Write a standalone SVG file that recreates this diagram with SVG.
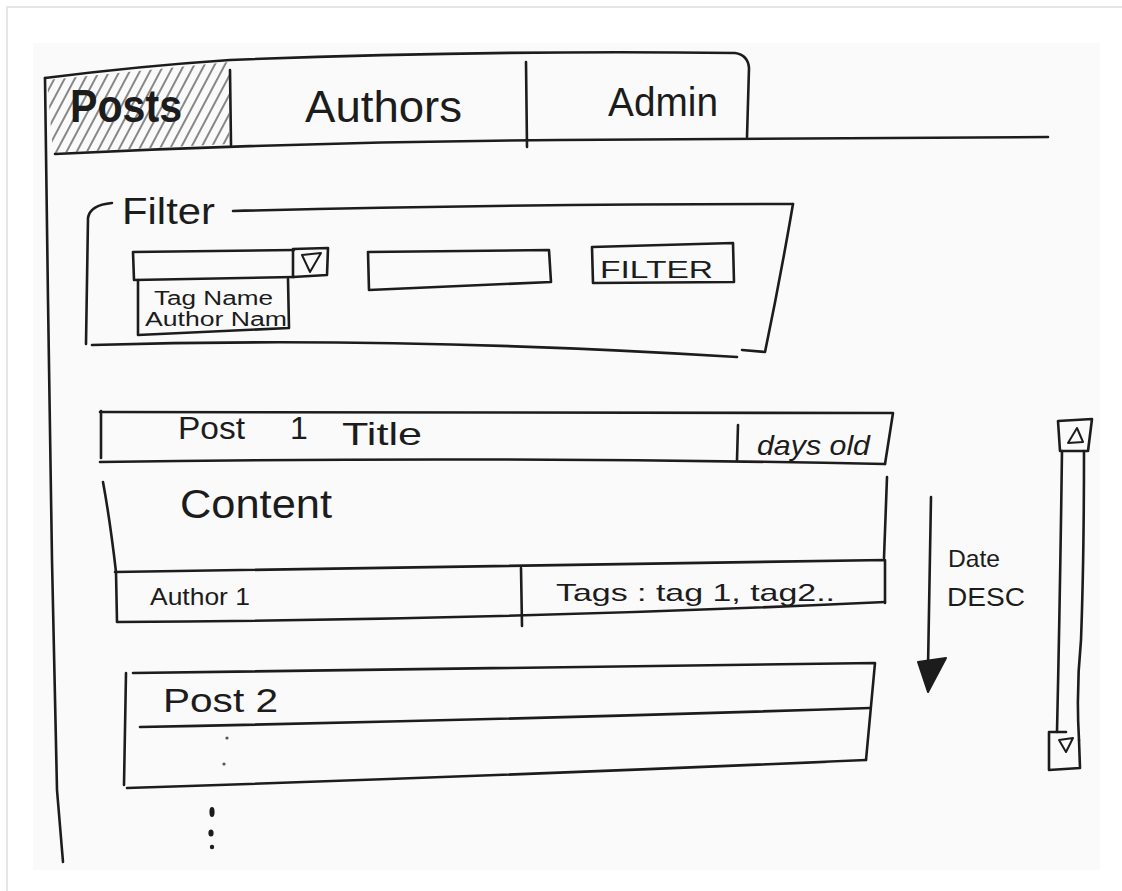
<svg xmlns="http://www.w3.org/2000/svg" width="1122" height="891" viewBox="0 0 1122 891">
  <defs>
    <style>
      .ink { fill: none; stroke: #1c1c1c; stroke-width: 2.6; stroke-linecap: round; stroke-linejoin: round; }
      .thin { fill: none; stroke: #1c1c1c; stroke-width: 2; stroke-linecap: round; stroke-linejoin: round; }
      .txt { font-family: "Liberation Sans", "DejaVu Sans", sans-serif; fill: #1c1c1c; }
    </style>
    <pattern id="hatch" patternUnits="userSpaceOnUse" width="9" height="9" patternTransform="rotate(28)">
      <line x1="4" y1="0" x2="4" y2="9" stroke="#6a6a6a" stroke-width="1.6"/>
    </pattern>
    <clipPath id="postsTabClip">
      <polygon points="47,80 229,62 229,144 53,153"/>
    </clipPath>
  </defs>

  <!-- page background and frame -->
  <rect x="0" y="0" width="1122" height="891" fill="#ffffff"/>
  <rect x="7" y="7" width="1130" height="900" fill="#ffffff" stroke="#dedede" stroke-width="1.5"/>
  <rect x="33" y="43" width="1067" height="827" fill="#fafafa"/>

  <!-- tab bar -->
  <g id="tab-bar">
    <rect x="40" y="55" width="200" height="100" fill="url(#hatch)" clip-path="url(#postsTabClip)"/>
    <path class="ink" d="M45,78 Q140,66 230,60 Q480,50 735,53 Q748,55 749,68 L747,137"/>
    <path class="ink" d="M55,154 Q300,142 560,140 L1048,137"/>
    <path class="ink" d="M230,70 L231,145"/>
    <path class="ink" d="M526,62 L527,147"/>
    <path class="ink" d="M45,78 L48,300 L52,560 L57,790 L63,862" stroke-width="3"/>
  </g>
  <g id="tab-posts">
    <text class="txt" x="70" y="122" font-size="46" font-weight="bold" textLength="112" lengthAdjust="spacingAndGlyphs">Posts</text>
  </g>
  <g id="tab-authors">
    <text class="txt" x="305" y="122" font-size="44" textLength="157" lengthAdjust="spacingAndGlyphs">Authors</text>
  </g>
  <g id="tab-admin">
    <text class="txt" x="608" y="116" font-size="40" textLength="110" lengthAdjust="spacingAndGlyphs">Admin</text>
  </g>

  <!-- filter panel -->
  <g id="filter-panel">
    <text class="txt" x="122" y="224" font-size="36" textLength="93" lengthAdjust="spacingAndGlyphs">Filter</text>
    <path class="ink" d="M112,203 Q90,205 88,218 L86,344"/>
    <path class="ink" d="M233,211 Q500,204 793,204"/>
    <path class="ink" d="M793,204 Q780,280 765,352 L742,350"/>
    <path class="ink" d="M92,345 Q400,336 737,357"/>
  </g>
  <g id="filter-field-select">
    <path class="ink" d="M133,252 L294,250 M133,252 L134,280 L294,277"/>
    <path class="ink" d="M293,249 L328,248 L327,275 L293,277 Z"/>
    <path class="thin" d="M302,255 L321,253 L310,272 Z"/>
  </g>
  <g id="filter-field-options">
    <path class="ink" d="M138,280 L138,335 L289,328 L288,279"/>
    <text class="txt" x="154" y="305" font-size="20" textLength="119" lengthAdjust="spacingAndGlyphs">Tag Name</text>
    <text class="txt" x="145" y="326" font-size="20" textLength="142" lengthAdjust="spacingAndGlyphs">Author Nam</text>
  </g>
  <g id="filter-text-input">
    <path class="ink" d="M368,252 L549,250 L551,282 L369,290 Z"/>
  </g>
  <g id="filter-button">
    <path class="ink" d="M592,247 L733,243 L734,282 L593,283 Z"/>
    <text class="txt" x="600" y="278" font-size="24" textLength="113" lengthAdjust="spacingAndGlyphs">FILTER</text>
  </g>

  <!-- first post -->
  <g id="post-1-title">
    <path class="ink" d="M100,412 Q500,412 893,413 L885,464"/>
    <path class="ink" d="M101,411 L101,458"/>
    <path class="ink" d="M100,462 Q500,456 885,464"/>
    <path class="ink" d="M738,425 L737,460"/>
    <text class="txt" x="178" y="439" font-size="32" textLength="67" lengthAdjust="spacingAndGlyphs">Post</text>
    <text class="txt" x="290" y="439" font-size="32">1</text>
    <text class="txt" x="342" y="445" font-size="32" textLength="80" lengthAdjust="spacingAndGlyphs">Title</text>
    <text class="txt" x="757" y="455" font-size="28" font-style="italic" textLength="113" lengthAdjust="spacingAndGlyphs">days old</text>
  </g>
  <g id="post-1-content">
    <path class="ink" d="M103,482 Q110,520 116,572"/>
    <path class="ink" d="M887,477 L884,558"/>
    <text class="txt" x="180" y="518" font-size="40" textLength="152" lengthAdjust="spacingAndGlyphs">Content</text>
  </g>
  <g id="post-1-footer">
    <path class="ink" d="M115,572 Q500,566 885,560 L885,603"/>
    <path class="ink" d="M116,572 L117,622 Q500,620 885,602"/>
    <path class="ink" d="M521,568 L522,626"/>
    <text class="txt" x="150" y="605" font-size="24" textLength="100" lengthAdjust="spacingAndGlyphs">Author 1</text>
    <text class="txt" x="556" y="601" font-size="24" textLength="279" lengthAdjust="spacingAndGlyphs">Tags : tag 1, tag2..</text>
  </g>

  <!-- second post -->
  <g id="post-2">
    <path class="ink" d="M126,673 L124,785"/>
    <path class="ink" d="M133,673 Q500,668 875,663 L866,760"/>
    <path class="ink" d="M140,727 Q500,720 870,708"/>
    <path class="ink" d="M127,788 Q500,776 866,760"/>
    <text class="txt" x="163" y="712" font-size="34" textLength="115" lengthAdjust="spacingAndGlyphs">Post 2</text>
  </g>
  <g id="more-posts">
    <circle cx="227" cy="738" r="1.6" fill="#555"/>
    <circle cx="224" cy="764" r="1.6" fill="#555"/>
    <ellipse cx="212" cy="812" rx="2.6" ry="5" fill="#1c1c1c"/>
    <ellipse cx="211" cy="833" rx="2.6" ry="3.5" fill="#1c1c1c"/>
    <circle cx="212" cy="847" r="2.2" fill="#1c1c1c"/>
  </g>

  <!-- sort direction -->
  <g id="connectors">
    <path class="ink" d="M931,497 L928,668"/>
    <polygon points="918,662 946,658 928,692" fill="#1c1c1c" stroke="#1c1c1c" stroke-width="2" stroke-linejoin="round"/>
  </g>
  <g id="sort-label">
    <text class="txt" x="948" y="567" font-size="24" textLength="52" lengthAdjust="spacingAndGlyphs">Date</text>
    <text class="txt" x="947" y="606" font-size="26" textLength="78" lengthAdjust="spacingAndGlyphs">DESC</text>
  </g>

  <!-- scrollbar -->
  <g id="scrollbar">
    <path class="ink" d="M1058,421 L1092,419 L1088,451 L1060,451 Z"/>
    <path class="thin" d="M1068,443 L1083,442 L1077,428 Z"/>
    <path class="ink" d="M1062,451 Q1060,600 1057,732"/>
    <path class="ink" d="M1084,451 Q1084,560 1081,640 Q1076,690 1079,740"/>
    <path class="ink" d="M1049,732 L1066,732 M1049,732 L1049,770 L1080,768 L1079,740"/>
    <path class="thin" d="M1059,740 L1073,738 L1066,752 Z"/>
  </g>
</svg>
